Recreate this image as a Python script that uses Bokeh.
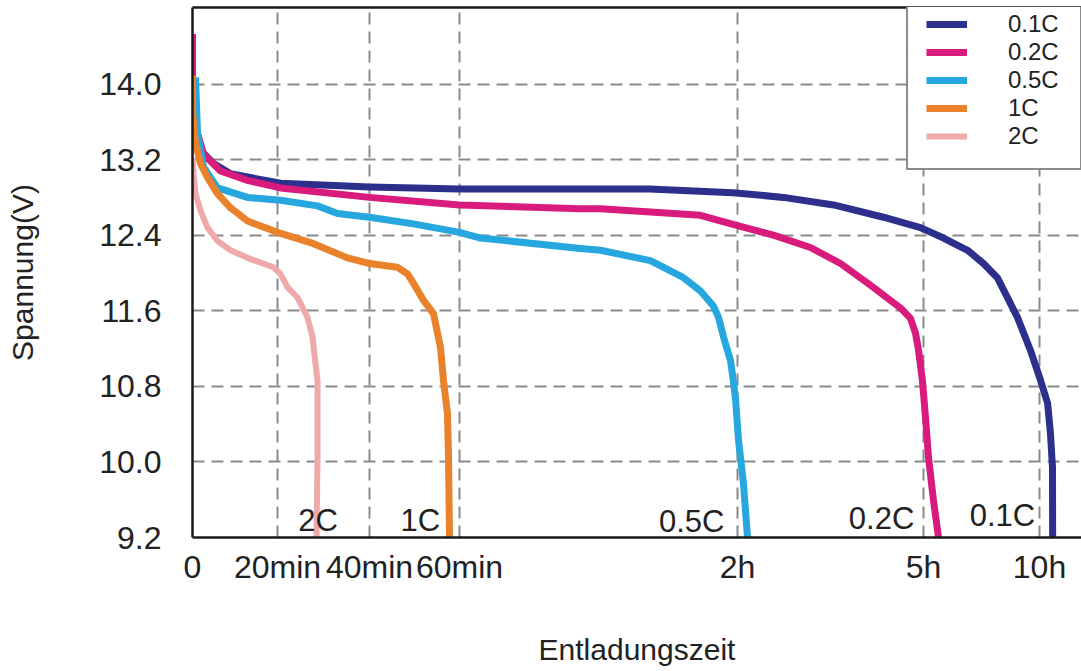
import numpy as np
from bokeh.plotting import figure
from bokeh.models import (FixedTicker, LinearAxis, Legend, LegendItem, Range1d,
                          PrintfTickFormatter)
from bokeh.embed import file_html
from bokeh.resources import INLINE
from bokeh.core.properties import value

# ---------------- data ----------------
# non-linear time axis: tick times (minutes), their labels and axis positions
tick_minutes = [0, 20, 40, 60, 120, 300, 600]
tick_labels = ["0", "20min", "40min", "60min", "2h", "5h", "10h"]
tick_axis_pos = [0, 85, 177, 267, 545, 731, 847]

y_ticks = [9.2, 10.0, 10.8, 11.6, 12.4, 13.2, 14.0]

series_names = ["0.1C", "0.2C", "0.5C", "1C", "2C"]
series_colors = ["#2c2f8c", "#d91b7e", "#27a7df", "#e9822b", "#f0a9aa"]

t_01C = [0.24, 0.71, 1.88, 4.24, 4.94, 8.94, 20.65, 40, 60, 86, 101, 119, 164.5,
         213, 261.3, 297, 351.7, 414, 455.2, 491, 517.2, 543, 576.7, 603, 621,
         628.4, 631, 633.6, 634]
v_01C = [13.82, 13.48, 13.30, 13.19, 13.16, 13.05, 12.95, 12.91, 12.89, 12.89,
         12.89, 12.85, 12.80, 12.72, 12.59, 12.48, 12.37, 12.24, 12.10, 11.95,
         11.74, 11.53, 11.18, 10.86, 10.62, 10.30, 10.12, 9.94, 9.2]

t_02C = [0, 0, 0.24, 1.18, 2.59, 6.59, 12.94, 20.65, 40, 60, 86, 90.4, 112, 120,
         154.8, 190.6, 219.7, 248.7, 277.7, 287.4, 292.3, 295.2, 299, 305.2,
         312.9, 325.9, 338.8]
v_02C = [14.53, 14.12, 13.69, 13.48, 13.26, 13.08, 12.98, 12.90, 12.80, 12.72,
         12.68, 12.68, 12.61, 12.50, 12.40, 12.27, 12.10, 11.87, 11.63, 11.52,
         11.36, 11.18, 10.86, 10.47, 10.05, 9.59, 9.2]

t_05C = [0.71, 1.18, 2.59, 5.88, 12.94, 20.65, 28.7, 33.04, 40, 49.78, 60, 64.53,
         86.12, 90.44, 101.2, 108.35, 112.0, 114.8, 115.9, 117.0, 118.5, 119.1,
         119.6, 120.97, 125.8, 129.7]
v_05C = [14.07, 13.48, 13.12, 12.90, 12.80, 12.77, 12.71, 12.63, 12.59, 12.52,
         12.43, 12.37, 12.26, 12.24, 12.13, 11.95, 11.81, 11.65, 11.53, 11.32,
         11.07, 10.86, 10.65, 10.23, 9.77, 9.2]

t_1C = [0, 0, 0.71, 1.88, 3.53, 5.88, 8.94, 12.94, 20, 27.83, 35.22, 40, 46.22,
        48.44, 49.78, 52.0, 54.22, 55.78, 56.44, 57.33, 57.56, 57.78]
v_1C = [14.09, 13.70, 13.37, 13.16, 13.01, 12.84, 12.69, 12.55, 12.43, 12.31,
        12.16, 12.10, 12.06, 11.99, 11.89, 11.71, 11.57, 11.21, 10.86, 10.51,
        10.05, 9.2]

t_2C = [0, 0.24, 0.71, 1.88, 3.53, 5.88, 8.94, 12.94, 19.06, 20.65, 22.17, 24.35,
        26.52, 27.61, 28.26, 28.7, 28.7, 28.7, 28.48]
v_2C = [13.22, 13.05, 12.84, 12.66, 12.48, 12.34, 12.24, 12.16, 12.06, 11.99,
        11.85, 11.74, 11.53, 11.32, 11.04, 10.86, 10.33, 10.05, 9.2]

ann_text = ["2C", "1C", "0.5C", "0.2C", "0.1C"]
ann_t = [28.8, 51.3, 110.1, 259.4, 504.3]
ann_v = [9.38, 9.38, 9.37, 9.40, 9.43]

series_t = [t_01C, t_02C, t_05C, t_1C, t_2C]
series_v = [v_01C, v_02C, v_05C, v_1C, v_2C]


def warp(t):
    """map minutes onto the piecewise-linear time axis"""
    t = np.asarray(t, dtype=float)
    x = np.interp(t, tick_minutes, tick_axis_pos)
    slope = (tick_axis_pos[-1] - tick_axis_pos[-2]) / (tick_minutes[-1] - tick_minutes[-2])
    over = t > tick_minutes[-1]
    x[over] = tick_axis_pos[-1] + (t[over] - tick_minutes[-1]) * slope
    return x


FONT = "Liberation Sans"
TXT = "#222222"

p = figure(width=1081, height=671, output_backend="svg", toolbar_location=None,
           x_range=Range1d(0, 889), y_range=Range1d(9.2, 14.81),
           min_border_left=192, min_border_right=0, min_border_top=7,
           min_border_bottom=134)
p.outline_line_color = None
p.background_fill_color = "white"

# axes
xa = p.xaxis[0]
xa.ticker = FixedTicker(ticks=tick_axis_pos)
xa.major_label_overrides = {pos: lab for pos, lab in zip(tick_axis_pos, tick_labels)}
xa.axis_label = "Entladungszeit"
ya = p.yaxis[0]
ya.ticker = FixedTicker(ticks=y_ticks)
ya.formatter = PrintfTickFormatter(format="%.1f")
ya.axis_label = "Spannung(V)"

for ax in (xa, ya):
    ax.axis_line_color = "#1a1a1a"
    ax.axis_line_width = 2.5
    ax.major_tick_line_color = None
    ax.minor_tick_line_color = None
    ax.major_label_text_font = FONT
    ax.major_label_text_font_size = "32px"
    ax.major_label_text_color = TXT
    ax.axis_label_text_font = FONT
    ax.axis_label_text_font_style = "normal"
    ax.axis_label_text_color = TXT
    ax.axis_label_text_font_size = "30px"

xa.major_label_standoff = 5
xa.axis_label_standoff = 45
ya.major_label_standoff = 25
ya.axis_label_standoff = 57

top = LinearAxis(ticker=FixedTicker(ticks=[]), axis_line_color="#1a1a1a",
                 axis_line_width=2.5, major_tick_line_color=None,
                 minor_tick_line_color=None, major_label_text_font_size="0px",
                 major_label_standoff=0, major_tick_out=0, major_tick_in=0)
p.add_layout(top, "above")

# grid
p.xgrid.ticker = FixedTicker(ticks=tick_axis_pos[1:])
p.ygrid.ticker = FixedTicker(ticks=y_ticks[1:])
for g in (p.xgrid[0], p.ygrid[0]):
    g.grid_line_color = "#8a8a8a"
    g.grid_line_width = 2
    g.grid_line_dash = "12 7"

# curves
items = []
for name, color, tt, vv in zip(series_names, series_colors, series_t, series_v):
    w = 6 if name == "2C" else 7
    r = p.line(warp(tt), vv, line_color=color, line_width=w,
               line_join="round", line_cap="butt")
    items.append(LegendItem(label=name, renderers=[r]))

# curve labels
p.text(x=warp(ann_t), y=ann_v, text=ann_text, text_font=value(FONT),
       text_font_size=value("31px"), text_color=TXT, text_align="center",
       text_baseline="middle")

legend = Legend(items=items, location=(714, 367), orientation="vertical",
                border_line_color="#1a1a1a", border_line_width=2.5,
                background_fill_color="white", background_fill_alpha=1.0,
                padding=18, spacing=0, glyph_width=41, glyph_height=24,
                label_standoff=41, label_width=54, label_height=24,
                label_text_font=FONT, label_text_font_size="24px",
                label_text_color=TXT, margin=0)
p.add_layout(legend)

open("out.html", "w").write(file_html(p, INLINE))
